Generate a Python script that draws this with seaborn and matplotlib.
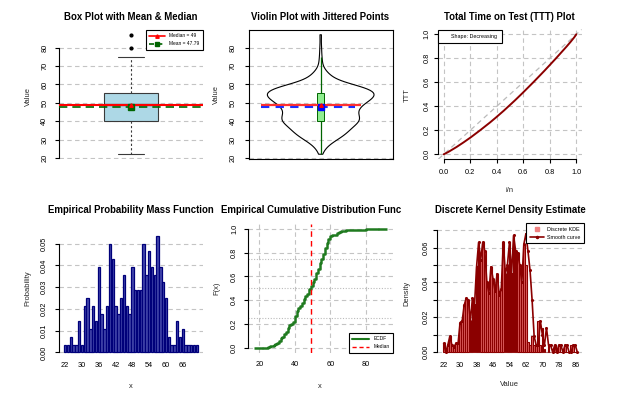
import numpy as np
import matplotlib
matplotlib.use("Agg")
import matplotlib.pyplot as plt
import seaborn as sns
from matplotlib.lines import Line2D
from matplotlib.patches import Rectangle
from matplotlib.ticker import FormatStrFormatter

# distinct observed values and how often each one appears (n = 280)
values = [22, 25, 26, 27, 28, 29,
          30, 31, 32, 33, 34, 35, 36, 37, 38, 39,
          40, 41, 42, 43, 44, 45, 46, 47, 48, 49,
          50, 51, 52, 53, 54, 55, 56, 57, 58, 59,
          60, 61, 62, 63, 64, 65, 66,
          69, 72, 75, 80, 87]
counts = [1, 1, 2, 1, 1, 4,
          1, 6, 7, 3, 6, 4, 11, 5, 3, 6,
          14, 12, 6, 5, 7, 10, 6, 5, 11, 8,
          8, 8, 14, 10, 13, 11, 10, 15, 11, 9,
          7, 2, 1, 1, 4, 2, 3,
          1, 1, 1, 1, 1]

# discrete kernel density estimate, grid 22..87
kde_x = list(range(22, 88))
kde_bar = [0.005, 0.000, 0.004, 0.009, 0.004, 0.003, 0.005, 0.005,
           0.017, 0.018, 0.027, 0.031, 0.030, 0.018, 0.031, 0.027,
           0.049, 0.063, 0.053, 0.063, 0.058, 0.040, 0.034, 0.049,
           0.042, 0.035, 0.045, 0.033, 0.036, 0.063, 0.045, 0.050,
           0.063, 0.045, 0.067, 0.058, 0.057, 0.050, 0.040, 0.062,
           0.050, 0.006, 0.004, 0.009, 0.004, 0.004, 0.018, 0.004,
           0.014, 0.002, 0.000, 0.004, 0.000, 0.000, 0.004, 0.000,
           0.004, 0.000, 0.000, 0.004, 0.000, 0.000, 0.004, 0.004,
           0.000, 0.000]
kde_line = [0.005, 0.000, 0.004, 0.009, 0.004, 0.003, 0.005, 0.005,
            0.017, 0.018, 0.027, 0.031, 0.030, 0.018, 0.031, 0.027,
            0.049, 0.063, 0.053, 0.063, 0.058, 0.040, 0.034, 0.049,
            0.042, 0.035, 0.045, 0.033, 0.036, 0.063, 0.045, 0.050,
            0.063, 0.045, 0.067, 0.058, 0.057, 0.050, 0.040, 0.062,
            0.068, 0.058, 0.047, 0.030, 0.009, 0.004, 0.004, 0.018,
            0.010, 0.004, 0.014, 0.004, 0.004, 0.000, 0.004, 0.000,
            0.004, 0.004, 0.000, 0.004, 0.004, 0.000, 0.000, 0.004,
            0.004, 0.000]

sample = np.repeat(values, counts)
n = len(sample)
probs = np.array(counts) / n
med = np.median(sample)
avg = sample.mean()
q1, q3 = np.percentile(sample, [25, 75])
iqr = q3 - q1
whi_lo = sample[sample >= q1 - 1.5 * iqr].min()
whi_hi = sample[sample <= q3 + 1.5 * iqr].max()

sns.set_style("white")
plt.rcParams["font.family"] = ["Liberation Sans", "DejaVu Sans"]
plt.rcParams.update({
    "xtick.labelsize": 5.3, "ytick.labelsize": 5.3,
    "axes.labelsize": 5.4, "axes.linewidth": 0.8,
    "xtick.major.size": 3, "ytick.major.size": 3,
    "xtick.major.width": 0.8, "ytick.major.width": 0.8,
    "xtick.direction": "out", "ytick.direction": "out",
    "xtick.bottom": True, "ytick.left": True,
    "xtick.color": "black", "ytick.color": "black",
    "axes.edgecolor": "black", "text.color": "black",
})

W, H = 632, 393
fig = plt.figure(figsize=(W / 100, H / 100), dpi=100)

GRID = dict(color="#C4C4C4", linestyle=(0, (4, 3)), linewidth=0.8)


def panel(l, t, r, b):
    return fig.add_axes([l / W, 1 - b / H, (r - l) / W, (b - t) / H])


def fpos(x, y):
    return x / W, 1 - y / H


def title(text, x, y):
    fig.text(*fpos(x, y), text, fontsize=6.9, fontweight="bold",
             ha="center", va="center")


def labels(ax, xlab=None, xat=None, ylab=None, yat=None):
    if xlab is not None:
        ax.set_xlabel(xlab)
        ax.xaxis.set_label_coords(*fpos(*xat), transform=fig.transFigure)
        ax.xaxis.label.set_va("center")
    else:
        ax.set_xlabel("")
    if ylab is not None:
        ax.set_ylabel(ylab)
        ax.yaxis.set_label_coords(*fpos(*yat), transform=fig.transFigure)
        ax.yaxis.label.set_va("center")
    else:
        ax.set_ylabel("")


def spines(ax, left=None, bottom=None):
    for s in ["top", "right", "left", "bottom"]:
        ax.spines[s].set_visible(False)
    if left is not None:
        ax.spines["left"].set_visible(True)
        ax.spines["left"].set_bounds(*left)
    if bottom is not None:
        ax.spines["bottom"].set_visible(True)
        ax.spines["bottom"].set_bounds(*bottom)


def rot_y(ax, pad):
    ax.tick_params(axis="y", labelrotation=90, pad=pad)
    for t in ax.get_yticklabels():
        t.set_va("center")


def box_legend(ax, handles, labels_, size, loc, anchor, **kw):
    leg = ax.legend(handles, labels_, loc=loc, bbox_to_anchor=anchor,
                    borderaxespad=0, fontsize=size, fancybox=False,
                    framealpha=1, edgecolor="black", **kw)
    leg.get_frame().set_linewidth(0.8)
    return leg


# ---- 1. box plot ----
ax1 = panel(59, 30, 203, 159)
sns.boxplot(y=sample, ax=ax1, width=0.4, color="#ADD8E6", saturation=1,
            linecolor="#3a3a3a", linewidth=0.8, fliersize=2,
            whiskerprops=dict(linestyle=(0, (2, 2))),
            flierprops=dict(marker="o", markerfacecolor="black",
                            markeredgecolor="black"),
            medianprops=dict(color="black", linewidth=1.6))
ax1.axhline(med, color="red", lw=1.5, zorder=3)
ax1.axhline(avg, color="#006400", lw=1.2, ls=(0, (5, 3)), zorder=3)
ax1.plot(0, avg, "s", color="#006400", ms=4.5, zorder=4)
ax1.plot(0, med, "^", color="red", ms=2.5, zorder=4)
ax1.set_xlim(-0.54, 0.54)
ax1.set_ylim(19.4, 89.6)
ax1.set_yticks([20, 30, 40, 50, 60, 70, 80])
ax1.set_xticks([])
ax1.yaxis.grid(True, **GRID)
ax1.set_axisbelow(True)
spines(ax1, left=(20, 80))
rot_y(ax1, 4.7)
labels(ax1, ylab="Value", yat=(28, 97))
box_legend(ax1,
           [Line2D([], [], color="red", lw=1.2, marker="^", ms=2.5),
            Line2D([], [], color="#006400", lw=1.2, ls=(0, (3, 2)),
                   marker="s", ms=2.5)],
           [f"Median = {med:g}", f"Mean = {avg:.2f}"], 3.5,
           "upper right", (1, 1), handlelength=3.2, handletextpad=0.9,
           borderpad=0.7, labelspacing=0.6)
title("Box Plot with Mean & Median", 130.5, 16.5)

# ---- 2. violin ----
ax2 = panel(248.7, 30, 392.7, 159)
sns.violinplot(y=sample, ax=ax2, fill=False, color="black", linewidth=0.8,
               inner=None, cut=0, width=0.8, bw_adjust=0.9)
ax2.vlines(0, whi_lo, whi_hi, color="#006400", lw=0.9, zorder=3)
ax2.add_patch(Rectangle((-0.025, q1), 0.05, q3 - q1, facecolor="#90EE90",
                        edgecolor="#006400", lw=0.7, zorder=4))
ax2.hlines(med, -0.45, 0.30, color="#FF3030", lw=1.6, zorder=5)
ax2.hlines(avg, -0.45, 0.26, color="#1E2EFF", lw=1.5, ls=(0, (4, 3)), zorder=5)
ax2.plot(0, avg, "s", color="#0000FF", ms=4.5, zorder=6)
ax2.plot(0, med, "^", color="red", ms=2.5, zorder=6)
ax2.set_xlim(-0.54, 0.54)
ax2.set_ylim(19.4, 89.6)
ax2.set_yticks([20, 30, 40, 50, 60, 70, 80])
ax2.set_xticks([])
ax2.yaxis.grid(True, **GRID)
ax2.set_axisbelow(True)
for s in ax2.spines.values():
    s.set_visible(True)
    s.set_linewidth(0.8)
rot_y(ax2, 5.4)
labels(ax2, ylab="Value", yat=(216, 94))
title("Violin Plot with Jittered Points", 320, 16.5)

# ---- 3. TTT plot ----
ax3 = panel(438.4, 29.5, 581.6, 159.1)
p = np.arange(n + 1) / n
ttt = np.r_[0, np.cumsum(np.sort(sample)) / sample.sum()]
ax3.axline((0, 0), slope=1, color="#BBBBBB", lw=0.9, ls=(0, (4, 3)))
ax3.plot(p, ttt, color="#8B0000", lw=1.4)
ax3.set_xlim(-0.04, 1.04)
ax3.set_ylim(-0.04, 1.04)
ticks = [0, 0.2, 0.4, 0.6, 0.8, 1.0]
ax3.set_xticks(ticks)
ax3.set_yticks(ticks)
ax3.xaxis.set_major_formatter(FormatStrFormatter("%.1f"))
ax3.yaxis.set_major_formatter(FormatStrFormatter("%.1f"))
ax3.grid(True, **GRID)
ax3.set_axisbelow(True)
spines(ax3, left=(0, 1), bottom=(0, 1))
ax3.tick_params(axis="x", pad=3.9)
rot_y(ax3, 2.8)
labels(ax3, xlab="i/n", xat=(509.5, 190.7), ylab="TTT", yat=(407, 95))
box_legend(ax3, [Line2D([], [], ls="none")], ["Shape: Decreasing"], 3.9,
           "upper left", (0, 1), handlelength=1.2, handletextpad=0.4,
           borderpad=0.8)
title("Total Time on Test (TTT) Plot", 509.5, 16.5)

# ---- 4. PMF ----
ax4 = panel(58.6, 231.3, 203.4, 357)
sns.barplot(x=values, y=probs, ax=ax4, color="#4447AC", saturation=1,
            edgecolor="#00007A", linewidth=0.9, width=1 / 1.2, errorbar=None)
ax4.set_xlim(-2.33, 49.33)
ax4.set_ylim(-0.00214, 0.0557)
ax4.set_xticks(range(0, len(values), 6))
ax4.set_xticklabels([str(v) for v in values[::6]])
ax4.set_yticks([0, 0.01, 0.02, 0.03, 0.04, 0.05])
ax4.yaxis.set_major_formatter(FormatStrFormatter("%.2f"))
ax4.yaxis.grid(True, **GRID)
ax4.set_axisbelow(True)
spines(ax4, left=(0, 0.05))
ax4.tick_params(axis="x", length=0, pad=3.6)
rot_y(ax4, 4.7)
labels(ax4, xlab="x", xat=(131, 386), ylab="Probability", yat=(28, 288))
title("Empirical Probability Mass Function", 130.5, 210)

# ---- 5. ECDF ----
ax5 = panel(248.3, 223.9, 392.7, 352.8)
dr = 0.08 * (sample.max() - sample.min())
for qy in (0.25, 0.5, 0.75):
    ax5.axhline(qy, color="#BBBBBB", lw=0.8, ls=(0, (1, 1.5)))
sns.ecdfplot(x=sample, ax=ax5, color="#1F7A1F", lw=1.8)
ax5.hlines(0, sample.min() - dr, sample.min(), color="#1F7A1F", lw=1.8)
ax5.hlines(1, sample.max(), sample.max() + dr, color="#1F7A1F", lw=1.8)
ax5.axvline(med, color="red", lw=1.0, ls=(0, (4, 3)))
ax5.set_xlim(13.78, 95.2)
ax5.set_ylim(-0.04, 1.04)
ax5.set_xticks([20, 40, 60, 80])
ax5.set_yticks(ticks)
ax5.yaxis.set_major_formatter(FormatStrFormatter("%.1f"))
ax5.grid(True, **GRID)
ax5.set_axisbelow(True)
spines(ax5, left=(0, 1))
ax5.tick_params(axis="x", length=0, pad=5.8)
rot_y(ax5, 4.4)
labels(ax5, xlab="x", xat=(320, 386), ylab="F(x)", yat=(217, 288))
box_legend(ax5,
           [Line2D([], [], color="#1F7A1F", lw=1.5),
            Line2D([], [], color="red", lw=1.0, ls=(0, (3, 2)))],
           ["ECDF", "Median"], 3.5, "lower right", (1, 0),
           handlelength=3.4, handletextpad=0.9, borderpad=0.7,
           labelspacing=0.6)
title("Empirical Cumulative Distribution Func", 311.5, 210)

# ---- 6. discrete KDE ----
ax6 = panel(437.4, 223.3, 583.6, 357)
sns.barplot(x=kde_x, y=kde_bar, ax=ax6, color="#E06060", saturation=1,
            edgecolor="#8B0000", linewidth=0.8, width=1 / 1.2, errorbar=None)
ax6.plot(range(len(kde_x)), kde_line, color="#8B0000", lw=1.2,
         marker="o", ms=1.2)
ax6.set_xlim(-3.05, 68.05)
ax6.set_ylim(-0.0028, 0.074)
ax6.set_xticks(range(0, len(kde_x), 8))
ax6.set_xticklabels([str(v) for v in kde_x[::8]])
ky = [0, 0.01, 0.02, 0.03, 0.04, 0.05, 0.06, 0.07]
ax6.set_yticks(ky)
ax6.set_yticklabels([f"{v:.2f}" if i % 2 == 0 else "" for i, v in enumerate(ky)])
ax6.yaxis.grid(True, **GRID)
ax6.set_axisbelow(True)
spines(ax6, left=(0, 0.07))
ax6.tick_params(axis="x", length=0, pad=3.4)
rot_y(ax6, 2.6)
labels(ax6, xlab="Value", xat=(509.5, 385), ylab="Density", yat=(407, 293))
box_legend(ax6,
           [Line2D([], [], ls="none", marker="s", color="#F08080", ms=2.5),
            Line2D([], [], color="#8B0000", lw=1.2, marker="o", ms=1.5)],
           ["Discrete KDE", "Smooth curve"], 3.9, "upper right", (1, 1),
           handlelength=2.6, handletextpad=0.6, borderpad=0.6,
           labelspacing=0.6)
title("Discrete Kernel Density Estimate", 510, 209.7)

fig.savefig("out.png", dpi=100)
